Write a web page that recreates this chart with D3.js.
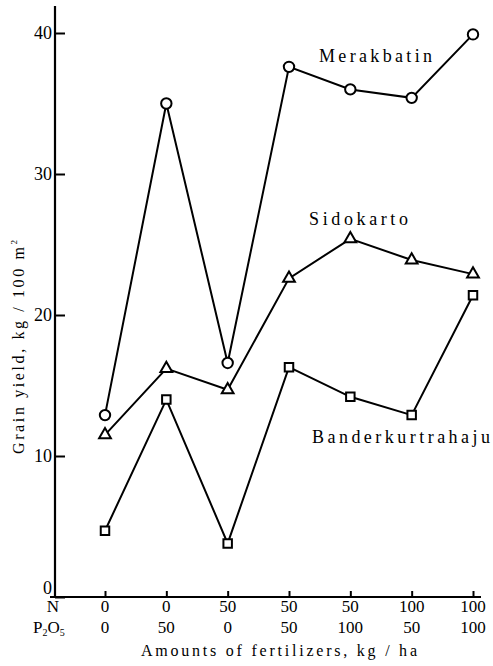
<!DOCTYPE html>
<html>
<head>
<meta charset="utf-8">
<script src="https://cdn.jsdelivr.net/npm/d3@7"></script>
</head>
<body style="margin:0">
<div id="wrap"></div>
<script>
// Fertilizer treatments (kg/ha)
const nLevels = ["0", "0", "50", "50", "50", "100", "100"];
const pLevels = ["0", "50", "0", "50", "100", "50", "100"];
const treatments = d3.range(nLevels.length);

// Grain yield, kg / 100 m2
const merakbatin = [12.9, 35.0, 16.6, 37.6, 36.0, 35.4, 39.9];
const sidokarto = [11.5, 16.2, 14.7, 22.6, 25.4, 23.9, 22.9];
const banderkurtrahaju = [4.7, 14.0, 3.8, 16.3, 14.2, 12.9, 21.4];

const yTicks = [0, 10, 20, 30, 40];

const svg = d3.select("#wrap").append("svg")
  .attr("width", 493).attr("height", 666)
  .style("display", "block")
  .style("font-family", '"Liberation Serif"');
const ink = "#000";

const x = d3.scalePoint().domain(treatments).range([105, 473]);
const y = d3.scaleLinear().domain([0, 40]).range([597, 33]);

function label(parent, size) {
  return parent.append("text")
    .style("font-family", '"Liberation Serif"')
    .style("font-size", size + "px");
}

// Y axis line with inward ticks
svg.append("line")
  .attr("x1", 55).attr("x2", 55)
  .attr("y1", 6).attr("y2", y(0) + 1)
  .attr("stroke", ink).attr("stroke-width", 2.2);
const yAxis = svg.append("g")
  .attr("transform", "translate(55,0)")
  .call(d3.axisLeft(y).tickValues(yTicks).tickSizeInner(-10).tickSizeOuter(0).tickFormat(""));
yAxis.select(".domain").remove();
yAxis.selectAll(".tick line").attr("stroke", ink).attr("stroke-width", 2);
yTicks.forEach(v => {
  label(svg, 18)
    .attr("x", 52).attr("y", y(v) + (v === 0 ? -3 : 6))
    .attr("text-anchor", "end")
    .text(v);
});

// X axis line with short upward ticks
svg.append("line")
  .attr("x1", 50).attr("x2", 481)
  .attr("y1", y(0)).attr("y2", y(0))
  .attr("stroke", ink).attr("stroke-width", 2.2);
const xAxis = svg.append("g")
  .attr("transform", `translate(0,${y(0)})`)
  .call(d3.axisBottom(x).tickSizeInner(-6).tickSizeOuter(0).tickFormat(""));
xAxis.select(".domain").remove();
xAxis.selectAll(".tick line").attr("stroke", ink).attr("stroke-width", 2);

treatments.forEach(i => {
  label(svg, 17).attr("x", x(i)).attr("y", 612).attr("text-anchor", "middle").text(nLevels[i]);
  label(svg, 17).attr("x", x(i)).attr("y", 633).attr("text-anchor", "middle").text(pLevels[i]);
});

label(svg, 17).attr("x", 53).attr("y", 612).attr("text-anchor", "middle").text("N");
const p2o5 = label(svg, 17).attr("x", 33).attr("y", 633);
p2o5.append("tspan").text("P");
p2o5.append("tspan").style("font-size", "10px").attr("dy", 3).text("2");
p2o5.append("tspan").attr("dy", -3).text("O");
p2o5.append("tspan").style("font-size", "10px").attr("dy", 3).text("5");

// Axis titles
label(svg, 16)
  .attr("x", 279).attr("y", 656)
  .attr("text-anchor", "middle")
  .attr("textLength", 276).attr("lengthAdjust", "spacing")
  .text("Amounts of fertilizers, kg / ha");

const yTitle = label(svg, 16)
  .attr("transform", "translate(24,347) rotate(-90)")
  .attr("text-anchor", "middle")
  .attr("textLength", 214).attr("lengthAdjust", "spacing");
yTitle.append("tspan").text("Grain yield, kg / 100 m");
yTitle.append("tspan").style("font-size", "9px").attr("dy", -7).text("2");

// Series
const series = [
  { name: "Merakbatin", values: merakbatin, symbol: "circle", at: [319, 62, 113] },
  { name: "Sidokarto", values: sidokarto, symbol: "triangle", at: [309, 225, 99] },
  { name: "Banderkurtrahaju", values: banderkurtrahaju, symbol: "square", at: [312, 443, 178] }
];

const line = d3.line().x((d, i) => x(i)).y(d => y(d));

series.forEach(s => {
  svg.append("path")
    .datum(s.values)
    .attr("d", line)
    .attr("fill", "none").attr("stroke", ink).attr("stroke-width", 2);
});

series.forEach(s => {
  const g = svg.append("g");
  if (s.symbol === "circle") {
    g.selectAll("circle").data(s.values).join("circle")
      .attr("cx", (d, i) => x(i)).attr("cy", d => y(d)).attr("r", 5.2)
      .attr("fill", "#fff").attr("stroke", ink).attr("stroke-width", 2);
  } else {
    const sym = s.symbol === "triangle"
      ? d3.symbol().type(d3.symbolTriangle).size(60)
      : d3.symbol().type(d3.symbolSquare).size(72);
    g.selectAll("path").data(s.values).join("path")
      .attr("transform", (d, i) => `translate(${x(i)},${y(d)})`)
      .attr("d", sym)
      .attr("fill", "#fff").attr("stroke", ink).attr("stroke-width", 2);
  }
  label(svg, 18)
    .attr("x", s.at[0]).attr("y", s.at[1])
    .attr("textLength", s.at[2]).attr("lengthAdjust", "spacing")
    .text(s.name);
});
</script>
</body>
</html>
